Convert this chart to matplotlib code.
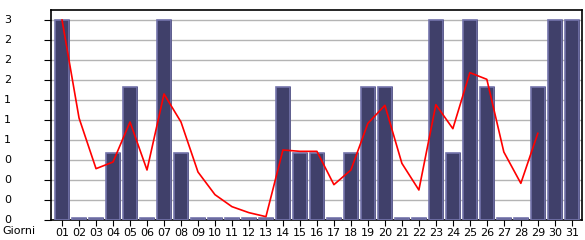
import matplotlib.pyplot as plt
import matplotlib.transforms as mtransforms
import numpy as np

# Giorni del mese e valori
giorni = ['%02d' % d for d in range(1, 32)]
barre = [3, 0, 0, 1, 2, 0, 3, 1, 0, 0, 0, 0, 0, 2, 1, 1, 0, 1, 2, 2,
         0, 0, 3, 1, 3, 2, 0, 0, 2, 3, 3]
media = [3.0, 1.53, 0.77, 0.87, 1.47, 0.75, 1.89, 1.47, 0.72, 0.38,
         0.2, 0.11, 0.05, 1.05, 1.03, 1.03, 0.53, 0.75, 1.45, 1.72,
         0.85, 0.45, 1.73, 1.37, 2.21, 2.11, 1.02, 0.55, 1.3]
yticks = [0, 0.3, 0.6, 0.9, 1.2, 1.5, 1.8, 2.1, 2.4, 2.7, 3.0]
ylabels = ['0', '0', '0', '0', '1', '1', '1', '2', '2', '2', '3']

fig = plt.figure(figsize=(5.85, 2.4), dpi=100)
ax = fig.add_axes([51/585, 20/240, 531/585, 210/240])

x = np.arange(len(giorni))
alt = np.array([b if b > 0 else 0.03 for b in barre])

# ombra nera a destra, poi la barra
ax.bar(x + 0.08, alt, width=0.8, color='black', zorder=2)
ax.bar(x, alt, width=0.8, color='#40406a', edgecolor='#7474ac',
       linewidth=1.2, zorder=3)

ax.plot(np.arange(len(media)), media, color='#ff0000', lw=1.2, zorder=4)

ax.set_xlim(-0.65, 30.6)
ax.set_ylim(0, 3.15)
ax.set_yticks(yticks)
ax.set_yticklabels([''] * len(yticks))
ax.set_xticks(x)
ax.set_xticklabels(giorni)
ax.yaxis.grid(True, color='#b4b4b4', lw=1, zorder=0)
ax.set_axisbelow(True)

# etichette y allineate a sinistra sul bordo della figura
tr = mtransforms.blended_transform_factory(fig.transFigure, ax.transData)
for v, l in zip(yticks, ylabels):
    fig.text(4/585, v, l, transform=tr, fontsize=8, ha='left', va='center')

ax.tick_params(axis='y', length=5, color='black')
ax.tick_params(axis='x', length=4, pad=2, labelsize=8)

for s in ax.spines.values():
    s.set_linewidth(1.2)

fig.text(2/585, 1 - 231/240, 'Giorni', fontsize=8, va='center')

fig.savefig('out.png', dpi=100)
